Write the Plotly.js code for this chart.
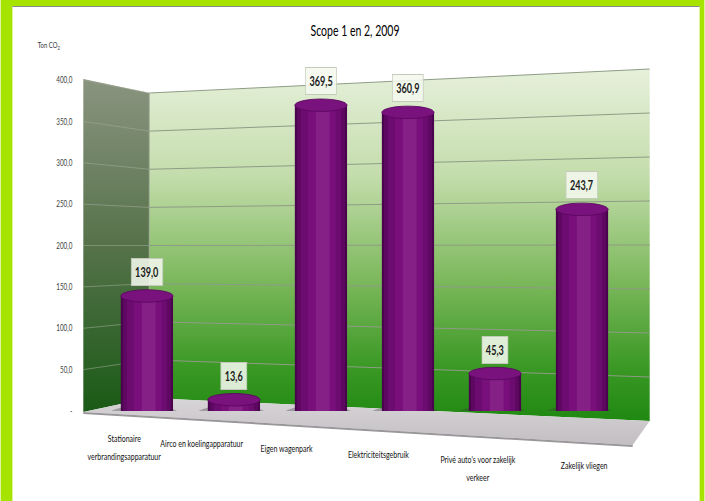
<!DOCTYPE html>
<html>
<head>
<meta charset="utf-8">
<script src="https://cdn.plot.ly/plotly-3.0.1.min.js"></script>
<style>
  html, body { margin: 0; padding: 0; background: #ffffff; overflow: hidden; width: 705px; height: 501px; }
  #chart { transform-origin: 0 0; }
</style>
</head>
<body>
<div id="chart"></div>
<script>
// ---- data ----
const categories = [
  'Stationaire verbrandingsapparatuur',
  'Airco en koelingapparatuur',
  'Eigen wagenpark',
  'Elektriciteitsgebruik',
  "Privé auto's voor zakelijk verkeer",
  'Zakelijk vliegen'
];
const categoryLabels = [
  ['Stationaire', 'verbrandingsapparatuur'],
  ['Airco en koelingapparatuur'],
  ['Eigen wagenpark'],
  ['Elektriciteitsgebruik'],
  ["Privé auto's voor zakelijk", 'verkeer'],
  ['Zakelijk vliegen']
];
const values = [139.0, 13.6, 369.5, 360.9, 45.3, 243.7];
const yTickVals = [0, 50, 100, 150, 200, 250, 300, 350, 400];
const yTickText = ['-', '50,0', '100,0', '150,0', '200,0', '250,0', '300,0', '350,0', '400,0'];
const chartTitle = 'Scope 1 en 2, 2009';
const yAxisTitle = 'Ton CO<sub>2</sub>';

// ---- geometry (the reference text is horizontally condensed: draw wide, then squeeze) ----
const K = 0.70;
const SW = 705, H = 501;             // on-screen size
const W = Math.round(SW / K);         // drawing width before squeeze
const kx = SW / W;
const px = x => x / kx;               // screen px -> drawing px
const M = { l: px(83), r: px(55), t: 80, b: 90 };
const PW = W - M.l - M.r, PH = H - M.t - M.b;
const FONT = 'Lato, "Open Sans", sans-serif';
const fmt = v => v.toFixed(1).replace('.', ',');
const chartDiv = document.getElementById('chart');
chartDiv.style.width = W + 'px';
chartDiv.style.height = H + 'px';
chartDiv.style.transform = 'scaleX(' + kx + ')';

// ---- 3D-look background (walls / floor), in screen coordinates, stretched to the drawing ----
function yFront(v) { return M.t + PH * (1 - v / 400); }
function yBackL(v) { return 398 - v * 305 / 400; }
function yBackR(v) { return 421 - v * 352 / 400; }
let grid = '';
yTickVals.forEach(v => {
  if (v === 0) return;
  grid += `<line x1="83" y1="${yFront(v)}" x2="149" y2="${yBackL(v)}" stroke="#a4ad9a" stroke-opacity="0.55" stroke-width="1"/>`;
  grid += `<line x1="149" y1="${yBackL(v)}" x2="650" y2="${yBackR(v)}" stroke="#8f9c86" stroke-width="1"/>`;
});
const svg = `<svg xmlns="http://www.w3.org/2000/svg" width="${SW}" height="${H}" viewBox="0 0 ${SW} ${H}" preserveAspectRatio="none">
<defs>
<linearGradient id="back" x1="0" y1="0" x2="0" y2="1">
<stop offset="0" stop-color="#e6f0da"/><stop offset="0.3" stop-color="#c4ddac"/>
<stop offset="0.6" stop-color="#7cb85c"/><stop offset="0.85" stop-color="#3a9824"/><stop offset="1" stop-color="#1f8912"/>
</linearGradient>
<linearGradient id="side" x1="0" y1="0" x2="0" y2="1">
<stop offset="0" stop-color="#8a9480"/><stop offset="0.5" stop-color="#56724a"/><stop offset="1" stop-color="#1a5a16"/>
</linearGradient>
<linearGradient id="floor" x1="0" y1="0" x2="0" y2="1">
<stop offset="0" stop-color="#d8d5d8"/><stop offset="1" stop-color="#c2bec2"/>
</linearGradient>
</defs>
<rect x="0" y="0" width="${SW}" height="${H}" fill="#a6e400"/>
<rect x="12" y="6" width="688" height="${H - 6}" fill="#ffffff"/>
<line x1="12" y1="6.5" x2="700" y2="6.5" stroke="#8a8a8a" stroke-width="1"/>
<polygon points="83,79 149,93 149,398 83,412" fill="url(#side)"/>
<polygon points="149,93 650,69 650,421 149,398" fill="url(#back)"/>
<line x1="149" y1="93" x2="149" y2="398" stroke="#9aa890" stroke-width="1"/>
${grid}
<polygon points="83,412 149,398 650,421 633,445" fill="url(#floor)"/>
<polygon points="83,412 633,445 633,447 83,414" fill="#9a979a"/>
</svg>`;
const svgUri = 'data:image/svg+xml;charset=utf-8,' + encodeURIComponent(svg);

// ---- cylinder-like bars: overlaid bar traces of decreasing width ----
const layers = [
  { w: 0.60, s: 0.00, c: '#4a044e' },
  { w: 0.55, s: 0.00, c: '#5e0862' },
  { w: 0.46, s: 0.00, c: '#6c0c70' },
  { w: 0.32, s: 0.01, c: '#780f7b' },
  { w: 0.16, s: 0.02, c: '#842086' }
];
const traces = layers.map(L => ({
  type: 'bar',
  x: categories,
  y: values,
  width: L.w,
  offset: -L.w / 2 + L.s,
  marker: { color: L.c, line: { width: 0 } },
  hoverinfo: 'skip',
  showlegend: false
}));

const shapes = [];
values.forEach((v, i) => {
  shapes.push({ type: 'circle', xref: 'x', yref: 'y', layer: 'below',
    x0: i - 0.42, x1: i + 0.36, y0: -13, y1: 7,
    fillcolor: 'rgba(60,60,60,0.35)', line: { width: 0 } });
  shapes.push({ type: 'circle', xref: 'x', yref: 'y', layer: 'below',
    x0: i - 0.3, x1: i + 0.3, y0: -7.5, y1: 7.5,
    fillcolor: '#52045a', line: { width: 0 } });
  shapes.push({ type: 'circle', xref: 'x', yref: 'y', layer: 'above',
    x0: i - 0.3, x1: i + 0.3, y0: v - 7.5, y1: v + 7.5,
    fillcolor: '#7a127e', line: { color: '#5a0660', width: 1 } });
});

const annotations = [];
values.forEach((v, i) => {
  annotations.push({
    x: i, y: v, xref: 'x', yref: 'y', yshift: 24,
    text: '<b>' + fmt(v) + '</b>', showarrow: false,
    font: { family: FONT, size: 13, color: '#1a1a1a' },
    bgcolor: 'rgba(244,248,238,0.88)', bordercolor: '#c3cabb', borderwidth: 1, borderpad: 5
  });
});
// category labels along the sloping front edge of the floor
categoryLabels.forEach((lines, i) => {
  const d = i - 2;
  const xs = px(3.5 * d * d + 1.5 * d - 34);
  const top = 430.5 + 5.4 * i;
  lines.forEach((t, j) => {
    annotations.push({
      x: i, y: 0, xref: 'x', yref: 'y', xanchor: 'center', yanchor: 'top',
      xshift: xs, yshift: -(top + 18 * j - (M.t + PH)),
      text: t, showarrow: false, align: 'center', borderpad: 0,
      font: { family: FONT, size: 10, color: '#111111' }
    });
  });
});
annotations.push({
  xref: 'paper', yref: 'paper', x: (px(49) - M.l) / PW, y: 1 + (M.t - 45) / PH,
  xanchor: 'center', yanchor: 'middle', showarrow: false,
  text: yAxisTitle, font: { family: FONT, size: 8.5, color: '#333333' }
});

const layout = {
  width: W, height: H, autosize: false,
  margin: M,
  paper_bgcolor: 'rgba(0,0,0,0)',
  plot_bgcolor: 'rgba(0,0,0,0)',
  separators: ',.',
  barmode: 'overlay',
  title: { text: chartTitle, x: 355 / SW, xref: 'container', y: 1 - 31 / H, yref: 'container',
    xanchor: 'center', yanchor: 'middle',
    font: { family: FONT, size: 15, color: '#000000' } },
  xaxis: { type: 'category', categoryorder: 'array', categoryarray: categories,
    range: [-0.731, 5.778], showticklabels: false, showgrid: false, zeroline: false,
    showline: false, ticks: '', fixedrange: true },
  yaxis: { range: [0, 400], tickmode: 'array', tickvals: yTickVals, ticktext: yTickText,
    showgrid: false, zeroline: false, showline: false,
    ticks: 'outside', ticklen: px(9), tickcolor: 'rgba(0,0,0,0)',
    tickfont: { family: FONT, size: 9, color: '#404040' }, fixedrange: true },
  images: [{ source: svgUri, xref: 'paper', yref: 'paper',
    x: -M.l / PW, y: 1 + M.t / PH, sizex: W / PW, sizey: H / PH,
    xanchor: 'left', yanchor: 'top', sizing: 'stretch', layer: 'below' }],
  shapes: shapes,
  annotations: annotations,
  showlegend: false
};

Plotly.newPlot('chart', traces, layout, { displayModeBar: false, staticPlot: true });
</script>
</body>
</html>
